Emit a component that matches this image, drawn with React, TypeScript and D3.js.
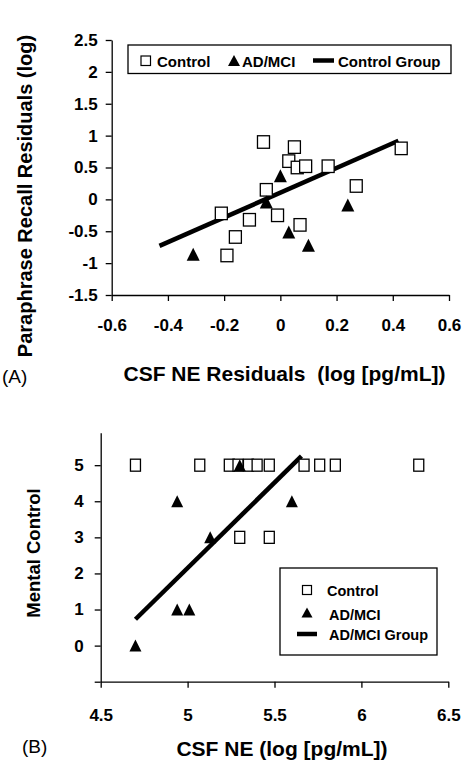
import React, { useEffect, useRef } from 'react';
import * as d3 from 'd3';

// ---- Panel A: residuals ----
const controlA = [
  { x: -0.06, y: 0.9 }, { x: 0.05, y: 0.82 }, { x: 0.03, y: 0.6 }, { x: 0.06, y: 0.5 },
  { x: 0.09, y: 0.52 }, { x: 0.17, y: 0.52 }, { x: 0.43, y: 0.8 }, { x: 0.27, y: 0.21 },
  { x: -0.05, y: 0.15 }, { x: -0.21, y: -0.22 }, { x: -0.01, y: -0.25 }, { x: -0.11, y: -0.32 },
  { x: -0.16, y: -0.59 }, { x: 0.07, y: -0.4 }, { x: -0.19, y: -0.88 },
];
const adA = [
  { x: -0.31, y: -0.86 }, { x: 0.0, y: 0.37 }, { x: -0.05, y: -0.04 },
  { x: 0.03, y: -0.51 }, { x: 0.1, y: -0.72 }, { x: 0.24, y: -0.09 },
];
const fitA = [{ x: -0.43, y: -0.73 }, { x: 0.42, y: 0.92 }];
const xTicksA = [-0.6, -0.4, -0.2, 0, 0.2, 0.4, 0.6];
const yTicksA = [-1.5, -1, -0.5, 0, 0.5, 1, 1.5, 2, 2.5];
const legendA = ['Control', 'AD/MCI', 'Control Group'];

// ---- Panel B: raw scores ----
const controlB = [
  { x: 4.7, y: 5 }, { x: 5.07, y: 5 }, { x: 5.24, y: 5 }, { x: 5.29, y: 5 }, { x: 5.35, y: 5 },
  { x: 5.4, y: 5 }, { x: 5.47, y: 5 }, { x: 5.67, y: 5 }, { x: 5.76, y: 5 }, { x: 5.85, y: 5 },
  { x: 6.33, y: 5 }, { x: 5.3, y: 3 }, { x: 5.47, y: 3 },
];
const adB = [
  { x: 4.94, y: 4 }, { x: 5.3, y: 5 }, { x: 5.6, y: 4 }, { x: 5.13, y: 3 },
  { x: 4.94, y: 1 }, { x: 5.01, y: 1 }, { x: 4.7, y: 0 },
];
const fitB = [{ x: 4.7, y: 0.73 }, { x: 5.655, y: 5.25 }];
const xTicksB = [4.5, 5, 5.5, 6, 6.5];
const yTicksB = [-1, 0, 1, 2, 3, 4, 5];
const legendB = ['Control', 'AD/MCI', 'AD/MCI Group'];

const FONT = "'Liberation Sans', Arial, Helvetica, sans-serif";

function styleAxis(g, size) {
  g.select('.domain').attr('stroke', '#000').attr('stroke-width', 1.3);
  g.selectAll('.tick line').attr('stroke', '#000').attr('stroke-width', 1.3);
  g.selectAll('.tick text')
    .attr('font-family', FONT)
    .attr('font-size', size)
    .attr('font-weight', 'bold')
    .attr('fill', '#000');
}

function squares(g, data, x, y, w, h) {
  g.append('g').selectAll('rect').data(data).join('rect')
    .attr('x', d => x(d.x) - w / 2)
    .attr('y', d => y(d.y) - h / 2)
    .attr('width', w)
    .attr('height', h)
    .attr('fill', '#fff')
    .attr('stroke', '#000')
    .attr('stroke-width', 1.3);
}

const triPath = (cx, cy, w, h) =>
  `M${cx},${cy - h / 2}L${cx + w / 2},${cy + h / 2}L${cx - w / 2},${cy + h / 2}Z`;

function triangles(g, data, x, y, w, h) {
  g.append('g').selectAll('path').data(data).join('path')
    .attr('d', d => triPath(x(d.x), y(d.y), w, h))
    .attr('fill', '#000');
}

function App() {
  const svgRef = useRef(null);

  useEffect(() => {
    const svg = d3.select(svgRef.current);
    svg.selectAll('*').remove();
    const fmt = d => String(d);

    // ===== Panel A =====
    const xA = d3.scaleLinear().domain([-0.6, 0.6]).range([111.7, 449]);
    const yA = d3.scaleLinear().domain([-1.5, 2.5]).range([295, 40]);
    const gA = svg.append('g');

    gA.append('g').attr('transform', 'translate(0,295)')
      .call(d3.axisBottom(xA).tickValues(xTicksA).tickSize(6).tickSizeOuter(0).tickPadding(18).tickFormat(fmt))
      .call(g => styleAxis(g, 17));
    gA.append('g').attr('transform', 'translate(111.7,0)')
      .call(d3.axisLeft(yA).tickValues(yTicksA).tickSize(6).tickSizeOuter(0).tickPadding(8).tickFormat(fmt))
      .call(g => styleAxis(g, 17));

    const lineA = d3.line().x(d => xA(d.x)).y(d => yA(d.y));
    gA.append('path').datum(fitA).attr('d', lineA)
      .attr('fill', 'none').attr('stroke', '#000').attr('stroke-width', 4.5);
    squares(gA, controlA, xA, yA, 12, 12.5);
    triangles(gA, adA, xA, yA, 13, 13);

    // legend A
    const lgA = gA.append('g');
    lgA.append('rect').attr('x', 128).attr('y', 45).attr('width', 323).attr('height', 28.5)
      .attr('fill', '#fff').attr('stroke', '#000').attr('stroke-width', 1.3);
    lgA.append('rect').attr('x', 141).attr('y', 56).attr('width', 9.5).attr('height', 9.5)
      .attr('fill', '#fff').attr('stroke', '#000').attr('stroke-width', 1.2);
    lgA.append('path').attr('d', triPath(234, 60.5, 12, 11)).attr('fill', '#000');
    lgA.append('line').attr('x1', 313).attr('x2', 334).attr('y1', 60.5).attr('y2', 60.5)
      .attr('stroke', '#000').attr('stroke-width', 4.5);
    [157, 242, 338].forEach((lx, i) => {
      lgA.append('text').attr('x', lx).attr('y', 66.5).text(legendA[i])
        .attr('font-family', FONT).attr('font-size', 15).attr('font-weight', 'bold');
    });

    gA.append('text').attr('transform', 'translate(32,196) rotate(-90)')
      .attr('text-anchor', 'middle').attr('font-family', FONT).attr('font-size', 20)
      .attr('font-weight', 'bold').text('Paraphrase Recall Residuals (log)');
    gA.append('text').attr('x', 284.5).attr('y', 381).attr('text-anchor', 'middle')
      .attr('font-family', FONT).attr('font-size', 21).attr('font-weight', 'bold')
      .attr('xml:space', 'preserve').style('white-space', 'pre')
      .text('CSF NE Residuals  (log [pg/mL])');
    gA.append('text').attr('x', 2).attr('y', 383).attr('font-family', FONT)
      .attr('font-size', 19).text('(A)');

    // ===== Panel B =====
    const xB = d3.scaleLinear().domain([4.5, 6.5]).range([100.7, 448.3]);
    const yB = d3.scaleLinear().domain([-1, 5.9]).range([681.7, 432.7]);
    const gB = svg.append('g');

    gB.append('g').attr('transform', 'translate(0,681.7)')
      .call(d3.axisBottom(xB).tickValues(xTicksB).tickSize(6).tickSizeOuter(0).tickPadding(21).tickFormat(fmt))
      .call(g => styleAxis(g, 17));
    gB.append('g').attr('transform', 'translate(100.7,0)')
      .call(d3.axisLeft(yB).tickValues(yTicksB).tickSize(6).tickSizeOuter(0).tickPadding(11)
        .tickFormat(d => (d < 0 ? '' : String(d))))
      .call(g => styleAxis(g, 17));

    const lineB = d3.line().x(d => xB(d.x)).y(d => yB(d.y));
    gB.append('path').datum(fitB).attr('d', lineB)
      .attr('fill', 'none').attr('stroke', '#000').attr('stroke-width', 4.5);
    squares(gB, controlB, xB, yB, 10, 12);
    triangles(gB, adB, xB, yB, 12, 12);

    // legend B
    const lgB = gB.append('g');
    lgB.append('rect').attr('x', 280).attr('y', 568).attr('width', 157).attr('height', 87)
      .attr('fill', '#fff').attr('stroke', '#000').attr('stroke-width', 1.3);
    lgB.append('rect').attr('x', 302.5).attr('y', 585.5).attr('width', 9).attr('height', 9)
      .attr('fill', '#fff').attr('stroke', '#000').attr('stroke-width', 1.2);
    lgB.append('path').attr('d', triPath(307, 612.5, 11, 10)).attr('fill', '#000');
    lgB.append('line').attr('x1', 297).attr('x2', 317).attr('y1', 634).attr('y2', 634)
      .attr('stroke', '#000').attr('stroke-width', 4.5);
    [596, 619.5, 639.5].forEach((ly, i) => {
      lgB.append('text').attr('x', i === 0 ? 327 : 329).attr('y', ly).text(legendB[i])
        .attr('font-family', FONT).attr('font-size', 14.5).attr('font-weight', 'bold');
    });

    gB.append('text').attr('transform', 'translate(40,553) rotate(-90)')
      .attr('text-anchor', 'middle').attr('font-family', FONT).attr('font-size', 18.5)
      .attr('font-weight', 'bold').text('Mental Control');
    gB.append('text').attr('x', 282).attr('y', 756).attr('text-anchor', 'middle')
      .attr('font-family', FONT).attr('font-size', 21).attr('font-weight', 'bold')
      .text('CSF NE (log [pg/mL])');
    gB.append('text').attr('x', 22).attr('y', 753).attr('font-family', FONT)
      .attr('font-size', 19).text('(B)');
  }, []);

  return (
    <svg
      ref={svgRef}
      width={470}
      height={765}
      style={{ position: 'absolute', left: 0, top: 0, background: '#fff' }}
    />
  );
}

export default App;
